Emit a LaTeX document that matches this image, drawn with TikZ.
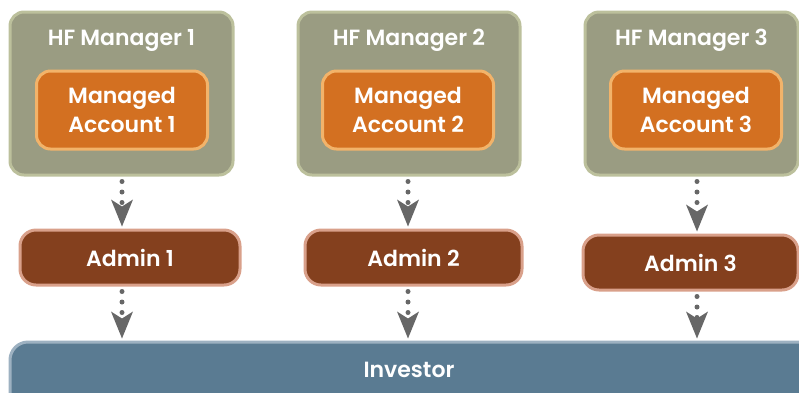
\documentclass[tikz,border=0pt]{standalone}
\usepackage{fontspec}
\setmainfont{Poppins}[BoldFont={Poppins SemiBold}]
\usetikzlibrary{arrows.meta}
\definecolor{mgrfill}{HTML}{9A9C82}
\definecolor{mgrline}{HTML}{BCC09C}
\definecolor{accfill}{HTML}{D37021}
\definecolor{accline}{HTML}{F2B36A}
\definecolor{admfill}{HTML}{84401E}
\definecolor{admline}{HTML}{D9A08A}
\definecolor{invfill}{HTML}{5A7B92}
\definecolor{invline}{HTML}{9DB1C1}
\definecolor{arrgray}{HTML}{676767}
\tikzset{
  boxbase/.style={rounded corners=14pt, line width=3pt, text=white, font=\fontsize{22}{29}\selectfont\bfseries, align=center, inner sep=0pt},
  mgr/.style={boxbase, draw=mgrline, fill=mgrfill, minimum height=163pt},
  acc/.style={boxbase, draw=accline, fill=accfill, minimum height=78pt, minimum width=171pt},
  adm/.style={boxbase, draw=admline, fill=admfill, minimum height=55pt, rounded corners=16pt},
  inv/.style={boxbase, draw=invline, fill=invfill, minimum height=70pt, rounded corners=18pt},
  lbl/.style={text=white, font=\fontsize{22}{29}\selectfont\bfseries, inner sep=0pt},
  flow/.style={draw=arrgray, line width=5pt, line cap=round, dash pattern=on 0pt off 10.5pt,
    -{Stealth[length=27pt, width=22pt, inset=7pt, fill=arrgray, line width=0pt]}, shorten <=5pt, shorten >=2pt}
}
\begin{document}
\begin{tikzpicture}[x=1pt,y=-1pt]
\useasboundingbox (0,0) rectangle (799,392);
\begin{scope}
\clip (0,0) rectangle (799,392);
% managers
\node[mgr, minimum width=223pt] (hf1) at (121.5,93.5) {};
\node[mgr, minimum width=222pt] (hf2) at (409,93.5) {};
\node[mgr, minimum width=213pt] (hf3) at (691.5,93.5) {};
\node[lbl] (hf1t) at (121.5,40) {HF Manager 1};
\node[lbl] (hf2t) at (409,40) {HF Manager 2};
\node[lbl] (hf3t) at (691.5,40) {HF Manager 3};
% accounts
\node[acc] (ma1) at (122,110) {Managed\\Account 1};
\node[acc] (ma2) at (408,110) {Managed\\Account 2};
\node[acc] (ma3) at (696,110) {Managed\\Account 3};
% admins
\node[adm, minimum width=220pt] (ad1) at (130,257.5) {Admin 1};
\node[adm, minimum width=217pt] (ad2) at (413.5,257.5) {Admin 2};
\node[adm, minimum width=215pt] (ad3) at (690.5,262.5) {Admin 3};
% investor
\node[inv, minimum width=820pt] (inv) at (420,377) {};
\node[lbl] (invt) at (409,370) {Investor};
% arrows
\coordinate (c1) at (122,0);
\coordinate (c2) at (408,0);
\coordinate (c3) at (697,0);
\draw[flow] (c1 |- hf1.south) -- (c1 |- ad1.north);
\draw[flow] (c2 |- hf2.south) -- (c2 |- ad2.north);
\draw[flow] (c3 |- hf3.south) -- (c3 |- ad3.north);
\draw[flow] (c1 |- ad1.south) -- (c1 |- inv.north);
\draw[flow] (c2 |- ad2.south) -- (c2 |- inv.north);
\draw[flow] (c3 |- ad3.south) -- (c3 |- inv.north);
\end{scope}
\end{tikzpicture}
\end{document}
